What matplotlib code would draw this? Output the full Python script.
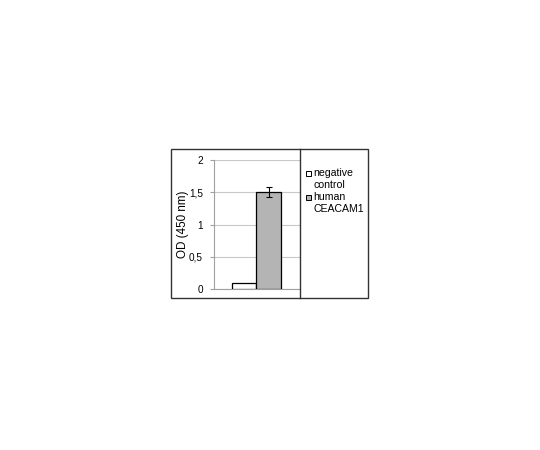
import matplotlib
matplotlib.use('Agg')
import matplotlib.pyplot as plt
from matplotlib.patches import Rectangle
from matplotlib.lines import Line2D

# dane
series = ['negative\ncontrol', 'human\nCEACAM1']
values = [0.10, 1.50]
errors = [0.0, 0.08]
colors = ['white', '#b4b4b4']
yticks = [0, 0.5, 1, 1.5, 2]
ytick_labels = ['0', '0,5', '1', '1,5', '2']

plt.rcParams['font.family'] = ['Liberation Sans', 'DejaVu Sans']

fig = plt.figure(figsize=(5.4, 4.5), dpi=100)
W, H = 540, 450

def fx(px):
    return px / W

def fy(py):
    return 1 - py / H

# ramka zewnetrzna i przegroda legendy
fig.patches.append(Rectangle((fx(171), fy(298)), fx(368) - fx(171), fy(149) - fy(298),
                             transform=fig.transFigure, fill=False, edgecolor='#333333', lw=1.0))
fig.lines.append(Line2D([fx(300), fx(300)], [fy(149), fy(298)],
                        transform=fig.transFigure, color='#333333', lw=1.0))

ax = fig.add_axes([fx(214), fy(289), fx(300) - fx(214), fy(160) - fy(289)])
xs = [0, 1]
ax.bar(xs, values, width=1.0, color=colors, edgecolor='black', linewidth=0.9, zorder=3)
ax.errorbar(xs[1], values[1], yerr=errors[1], fmt='none', ecolor='black',
            elinewidth=0.8, capsize=2.2, capthick=0.8, zorder=4)

ax.set_xlim(-1.23, 2.28)
ax.set_ylim(0, 2)
ax.set_yticks(yticks)
ax.set_yticklabels(ytick_labels, fontsize=7.2)
ax.set_xticks([])
ax.grid(axis='y', color='#c8c8c8', lw=0.8, zorder=0)
for s in ['top', 'right']:
    ax.spines[s].set_visible(False)
ax.spines['left'].set_color('#a0a0a0')
ax.spines['bottom'].set_color('#a0a0a0')
ax.tick_params(axis='y', length=3, color='#a0a0a0', pad=5)
ax.set_ylabel('OD (450 nm)', fontsize=8.4, va='center')
ax.yaxis.set_label_coords(-0.36, 0.5)

# legenda
leg_y = [173, 197]
for lab, c, y in zip(series, colors, leg_y):
    fig.patches.append(Rectangle((fx(306.5), fy(y + 2.5)), fx(5), fy(0) - fy(5),
                                 transform=fig.transFigure, facecolor=c,
                                 edgecolor='black', lw=0.7))
    fig.text(fx(313), fy(y - 5), lab, fontsize=7.6, va='top', ha='left',
             linespacing=1.25, transform=fig.transFigure)

fig.savefig('out.png', dpi=100)
